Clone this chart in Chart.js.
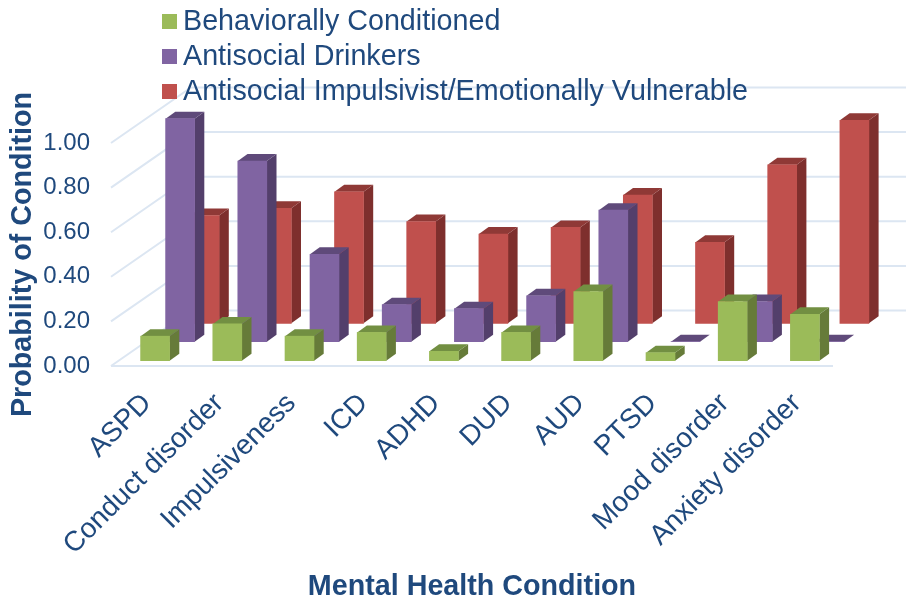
<!DOCTYPE html>
<html>
<head>
<meta charset="utf-8">
<title>Mental health conditions by subtype</title>
<script src="https://cdn.jsdelivr.net/npm/chart.js@4"></script>
<style>
  html, body { margin: 0; background: #fff; }
  #wrap { position: relative; width: 906px; height: 597px; overflow: hidden; }
  #chart { position: absolute; left: 0; top: 0; }
  #legend { position: absolute; left: 162px; top: 3px; font: 28.7px "Liberation Sans", Arial, sans-serif; color: #1F497D; }
  #legend div { height: 35px; line-height: 35px; white-space: nowrap; }
  #legend span { display: inline-block; position: relative; top: -1px; width: 15px; height: 15px; margin-right: 6px; }
</style>
</head>
<body>
<div id="wrap">
  <canvas id="chart" width="906" height="597"></canvas>
  <div id="legend"></div>
</div>
<script>
const categories = ["ASPD", "Conduct disorder", "Impulsiveness", "ICD", "ADHD", "DUD", "AUD", "PTSD", "Mood disorder", "Anxiety disorder"];
const seriesNames = ["Behaviorally Conditioned", "Antisocial Drinkers", "Antisocial Impulsivist/Emotionally Vulnerable"];
const behaviorallyConditioned = [0.11, 0.165, 0.11, 0.127, 0.042, 0.127, 0.31, 0.036, 0.265, 0.208];
const antisocialDrinkers = [1.0, 0.81, 0.392, 0.166, 0.148, 0.206, 0.59, 0, 0.18, 0];
const antisocialImpulsivist = [0.483, 0.516, 0.59, 0.456, 0.40, 0.43, 0.575, 0.363, 0.711, 0.91];
const yTicks = [0, 0.2, 0.4, 0.6, 0.8, 1];

const textColor = "#1F497D";
const gridColor = "#DCE6F2";
const fontName = '"Liberation Sans", Arial, sans-serif';

// fake 3D: each row of bars sits further back, front / side / top colours
const rows = [
  { dx: 8, dy: -5.3, front: "#9BBB59", side: "#667B39", top: "#728F42" },
  { dx: 33, dy: -24.3, front: "#8064A2", side: "#533F6B", top: "#5F4A7A" },
  { dx: 57.5, dy: -42.7, front: "#C0504D", side: "#7E2F2D", top: "#8F3936" },
];
const barDepthX = 9.7;
const barDepthY = 7;
const wallDepthX = 80;
const wallDepthY = 55.5;

// left wall and back wall lines, from the y scale ticks
const wallsPlugin = {
  id: "walls",
  beforeDatasetsDraw(chart) {
    const { ctx, chartArea, scales } = chart;
    ctx.save();
    ctx.strokeStyle = gridColor;
    ctx.lineWidth = 2;
    ctx.beginPath();
    scales.y.ticks.forEach(t => {
      const y = scales.y.getPixelForValue(t.value);
      ctx.moveTo(chartArea.left, y);
      ctx.lineTo(chartArea.left + wallDepthX, y - wallDepthY);
      ctx.lineTo(chart.width, y - wallDepthY);
    });
    ctx.moveTo(chartArea.left, chartArea.bottom);
    ctx.lineTo(chartArea.right, chartArea.bottom);
    ctx.stroke();
    ctx.restore();
  },
};

// shifts a dataset to its row and adds the side and top faces of its bars
const depthPlugin = {
  id: "depth",
  beforeDatasetDraw(chart, args) {
    const { ctx } = chart;
    const row = rows[args.index];
    ctx.save();
    ctx.translate(row.dx, row.dy);
    args.meta.data.forEach(bar => {
      const left = bar.x - bar.width / 2;
      const right = bar.x + bar.width / 2;
      ctx.fillStyle = row.side;
      ctx.beginPath();
      ctx.moveTo(right, bar.y);
      ctx.lineTo(right + barDepthX, bar.y - barDepthY);
      ctx.lineTo(right + barDepthX, bar.base - barDepthY);
      ctx.lineTo(right, bar.base);
      ctx.closePath();
      ctx.fill();
      ctx.fillStyle = row.top;
      ctx.beginPath();
      ctx.moveTo(left, bar.y);
      ctx.lineTo(left + barDepthX, bar.y - barDepthY);
      ctx.lineTo(right + barDepthX, bar.y - barDepthY);
      ctx.lineTo(right, bar.y);
      ctx.closePath();
      ctx.fill();
    });
  },
  afterDatasetDraw(chart) {
    chart.ctx.restore();
  },
};

const values = [behaviorallyConditioned, antisocialDrinkers, antisocialImpulsivist];

new Chart(document.getElementById("chart"), {
  type: "bar",
  data: {
    labels: categories,
    datasets: seriesNames.map((name, i) => ({
      label: name,
      data: values[i],
      backgroundColor: rows[i].front,
      grouped: false,
      barThickness: 29,
      clip: false,
    })),
  },
  options: {
    responsive: false,
    animation: false,
    layout: { padding: { top: 143, right: 73, left: 0, bottom: 0 } },
    plugins: { legend: { display: false }, tooltip: { enabled: false } },
    scales: {
      x: {
        grid: { display: false },
        border: { display: false },
        ticks: {
          color: textColor,
          font: { family: fontName, size: 28 },
          maxRotation: 45,
          minRotation: 45,
          autoSkip: false,
          padding: 13,
        },
        title: {
          display: true,
          text: "Mental Health Condition",
          color: textColor,
          font: { family: fontName, size: 28.7, weight: "bold" },
          padding: { top: 0, bottom: -7 },
        },
        afterFit(scale) { scale.height = 231; },
      },
      y: {
        min: 0,
        max: 1,
        grid: { display: false, drawTicks: false },
        border: { display: false },
        afterBuildTicks(scale) { scale.ticks = yTicks.map(v => ({ value: v })); },
        ticks: {
          color: textColor,
          font: { family: fontName, size: 24 },
          padding: 21,
          callback: v => v.toFixed(2),
        },
        title: {
          display: true,
          text: "Probability of Condition",
          color: textColor,
          font: { family: fontName, size: 28.7, weight: "bold" },
          padding: { top: 6, bottom: 0 },
        },
        afterFit(scale) { scale.width = 111; },
      },
    },
  },
  plugins: [wallsPlugin, depthPlugin],
});

const legend = document.getElementById("legend");
seriesNames.forEach((name, i) => {
  const item = document.createElement("div");
  const swatch = document.createElement("span");
  swatch.style.background = rows[i].front;
  item.append(swatch, name);
  legend.append(item);
});
</script>
</body>
</html>
